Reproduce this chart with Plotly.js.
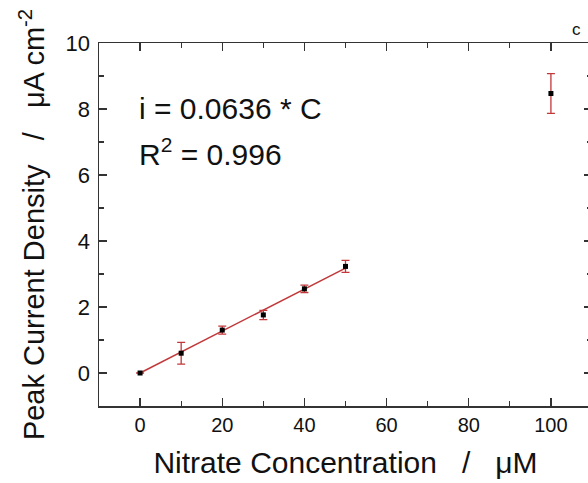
<!DOCTYPE html>
<html>
<head>
<meta charset="utf-8">
<script src="https://cdn.plot.ly/plotly-3.0.1.min.js"></script>
<style>
html, body { margin: 0; padding: 0; overflow: hidden; background: #fff; }
#chart { width: 600px; height: 483px; }
</style>
</head>
<body>
<div id="chart"></div>
<script>
// Data
const concentration = [0, 10, 20, 30, 40, 50, 100];        // µM
const currentDensity = [0.0, 0.60, 1.30, 1.76, 2.55, 3.23, 8.47]; // µA cm^-2
const errorValues = [0.0, 0.33, 0.12, 0.14, 0.11, 0.18, 0.60];
const fitSlope = 0.0636;
const fitX = [0, 50];
const fitY = fitX.map(c => fitSlope * c);

const red = '#c2383a';
const axisColor = '#333333';
const font = 'Arial, "Liberation Sans", sans-serif';

const traces = [
  {
    x: fitX, y: fitY, type: 'scatter', mode: 'lines',
    line: { color: red, width: 1.5 }, hoverinfo: 'skip', showlegend: false
  },
  {
    x: concentration, y: currentDensity, type: 'scatter', mode: 'markers',
    marker: { symbol: 'square', size: 5, color: '#000' },
    error_y: { type: 'data', array: errorValues, visible: true, color: red, thickness: 1.3, width: 4 },
    showlegend: false
  }
];

const axisCommon = {
  showgrid: false, zeroline: false, showline: true, linecolor: axisColor, linewidth: 1.5,
  mirror: 'allticks', ticks: 'inside', ticklen: 8, tickwidth: 1.3, tickcolor: axisColor
};

const layout = {
  width: 600, height: 483,
  margin: { l: 99, r: 8, t: 43, b: 77 },
  paper_bgcolor: '#fff', plot_bgcolor: '#fff',
  font: { family: font, color: '#111' },
  xaxis: Object.assign({}, axisCommon, {
    range: [-10, 110], tickvals: [0, 20, 40, 60, 80, 100], ticktext: ['0', '20', '40', '60', '80', '100'],
    tickfont: { family: font, size: 20, color: '#111' },
    minor: { dtick: 10, tick0: 0, ticks: 'inside', ticklen: 5, tickwidth: 1.2, tickcolor: axisColor },
    title: { text: 'Nitrate Concentration\u00a0\u00a0\u00a0/\u00a0\u00a0\u00a0\u03bcM', font: { family: font, size: 30, color: '#111' }, standoff: 17 }
  }),
  yaxis: Object.assign({}, axisCommon, {
    range: [-1, 10], tickvals: [0, 2, 4, 6, 8, 10], ticktext: ['0', '2', '4', '6', '8', '10'],
    tickfont: { family: font, size: 22, color: '#111' },
    ticklabelstandoff: 3,
    minor: { dtick: 1, tick0: 0, ticks: 'inside', ticklen: 5, tickwidth: 1.2, tickcolor: axisColor },
    title: { text: 'Peak Current Density\u00a0\u00a0\u00a0/\u00a0\u00a0\u00a0\u03bcA cm<sup>-2</sup>', font: { family: font, size: 29, color: '#111' }, standoff: 12 }
  }),
  annotations: [
    { xref: 'paper', yref: 'paper', x: (137 - 99) / 493, y: (406 - 109) / 363, xanchor: 'left', yanchor: 'middle',
      text: 'i = 0.0636 * C', showarrow: false, font: { family: font, size: 30, color: '#111' } },
    { xref: 'paper', yref: 'paper', x: (137 - 99) / 493, y: (406 - 152) / 363, xanchor: 'left', yanchor: 'middle',
      text: 'R<sup>2</sup> = 0.996', showarrow: false, font: { family: font, size: 30, color: '#111' } },
    { xref: 'paper', yref: 'paper', x: (576 - 99) / 493, y: (406 - 30) / 363, xanchor: 'center', yanchor: 'middle',
      text: 'c', showarrow: false, font: { family: font, size: 17, color: '#111' } }
  ]
};

Plotly.newPlot('chart', traces, layout, { displayModeBar: false, staticPlot: true });
</script>
</body>
</html>
